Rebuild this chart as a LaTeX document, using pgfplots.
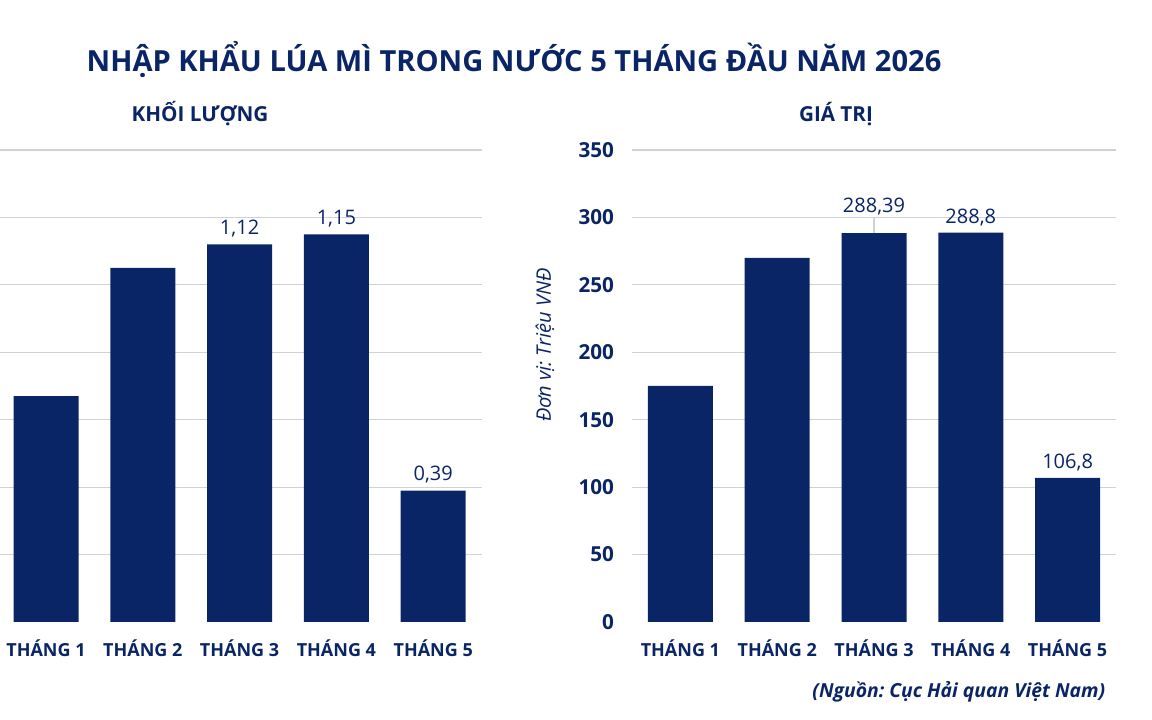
\documentclass[border=0pt]{standalone}
\usepackage{fontspec}
\setmainfont{Open Sans}
\usepackage{pgfplots}
\pgfplotsset{compat=1.18}
\frenchspacing
\definecolor{navy}{RGB}{10, 37, 102}
\definecolor{gridgray}{RGB}{208, 210, 218}

\pgfplotsset{
  monthbars/.style={
    scale only axis,
    width=363pt, height=354pt,
    anchor=south west,
    xmin=0.5, xmax=5.5,
    ybar, bar width=48.75pt,
    axis line style={draw=none},
    major tick length=0pt,
    xtick={1,2,3,4,5},
    xticklabels={THÁNG 1,THÁNG 2,THÁNG 3,THÁNG 4,THÁNG 5},
    xticklabel style={font=\fontsize{13.5}{16}\selectfont\bfseries, text=navy, yshift=-10pt},
    yticklabel style={font=\fontsize{15.5}{18}\selectfont\bfseries, text=navy, xshift=-10pt},
    /pgf/number format/assume math mode=true,
    ymajorgrids=true,
    grid style={gridgray, line width=0.8pt},
    clip=false,
  },
}
\tikzset{vlabel/.style={font=\fontsize{15}{18}\selectfont, text=navy, above, inner sep=5pt}}

\begin{document}
\begin{tikzpicture}
\useasboundingbox (0,0) rectangle (864pt,540pt);

% tieu de chung
\node[font=\fontsize{21.8}{26}\selectfont\bfseries, text=navy] at (385.5pt,495pt)
  {NHẬP KHẨU LÚA MÌ TRONG NƯỚC 5 THÁNG ĐẦU NĂM 2026};
\node[font=\fontsize{15.5}{18}\selectfont\bfseries, text=navy] at (150pt,454.5pt) {KHỐI LƯỢNG};
\node[font=\fontsize{15.5}{18}\selectfont\bfseries, text=navy] at (627pt,454.5pt) {GIÁ TRỊ};

% khoi luong
\begin{axis}[monthbars,
    at={(-1.8pt,73.5pt)},
    ymin=0, ymax=1.4,
    ytick={0.2,0.4,0.6,0.8,1.0,1.2,1.4},
    yticklabels={},
]
\addplot[fill=navy, draw=none] coordinates {(1,0.67) (2,1.05) (3,1.12) (4,1.15) (5,0.39)};
\node[vlabel] at (axis cs:3,1.12) {1,12};
\node[vlabel] at (axis cs:4,1.15) {1,15};
\node[vlabel] at (axis cs:5,0.39) {0,39};
\end{axis}

% gia tri
\begin{axis}[monthbars,
    at={(474pt,73.5pt)},
    ymin=0, ymax=350,
    ytick={50,100,...,350},
    extra y ticks={0},
    extra y tick style={grid=none},
]
\addplot[fill=navy, draw=none] coordinates {(1,175) (2,270) (3,288.39) (4,288.8) (5,106.8)};
\draw[gridgray, line width=0.8pt] (axis cs:3,288.39) -- ++(0pt,11pt);
\node[vlabel, yshift=8pt] at (axis cs:3,288.39) {288,39};
\node[vlabel] at (axis cs:4,288.8) {288,8};
\node[vlabel] at (axis cs:5,106.8) {106,8};
\end{axis}

\node[rotate=90, font=\fontsize{15}{18}\selectfont\itshape, text=navy] at (408.75pt,281.25pt)
  {Đơn vị: Triệu VNĐ};
\node[anchor=east, font=\fontsize{14.5}{17}\selectfont\bfseries\itshape, text=navy] at (832.5pt,21pt)
  {(Nguồn: Cục Hải quan Việt Nam)};
\end{tikzpicture}
\end{document}
